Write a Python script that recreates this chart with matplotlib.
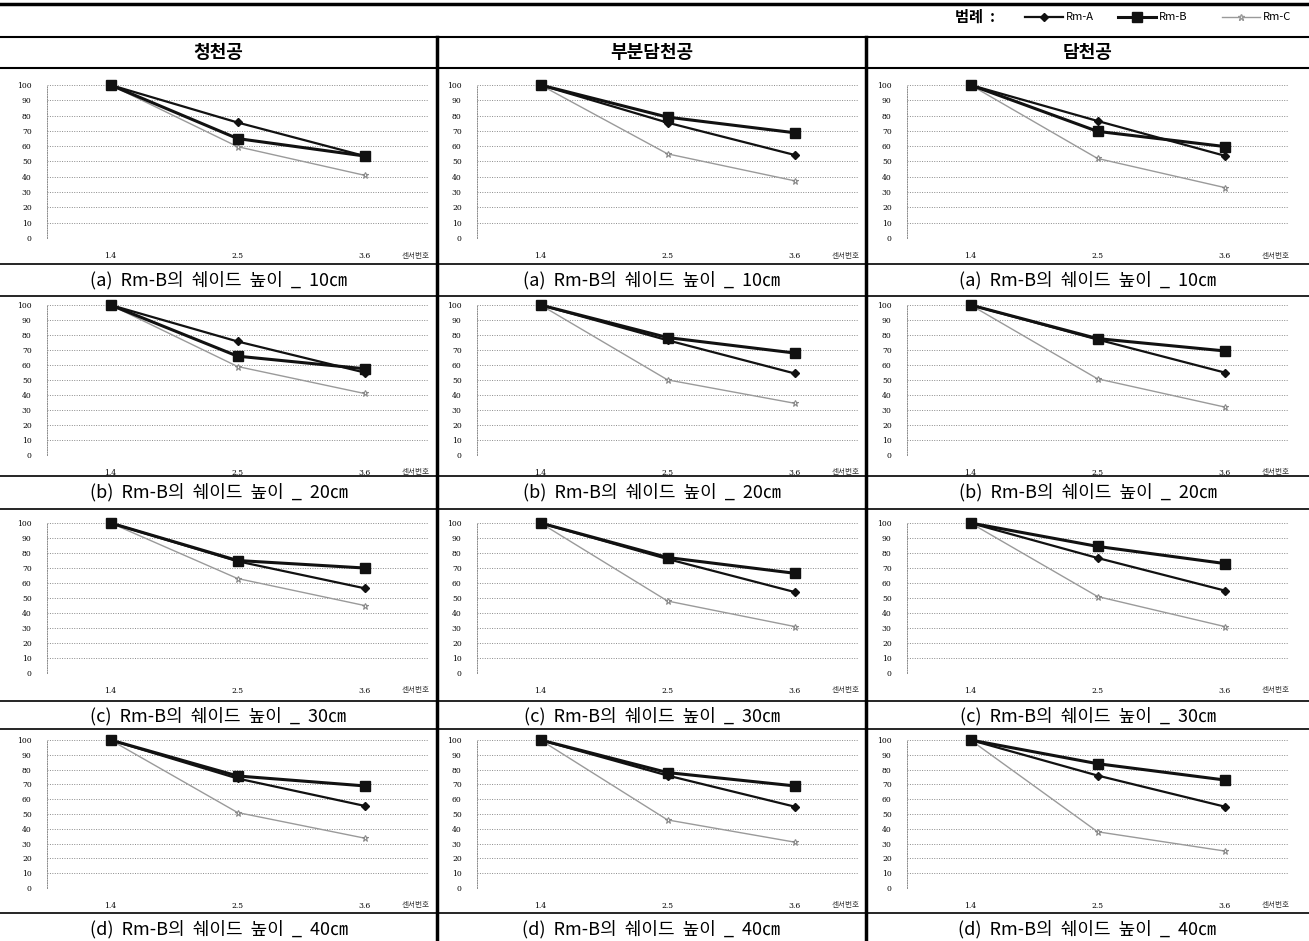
import numpy as np
import matplotlib.pyplot as plt
from matplotlib.lines import Line2D

plt.rcParams['font.family'] = ['Noto Sans CJK KR', 'DejaVu Sans']

# data: relative values at sensors 1.4 / 2.5 / 3.6
sensors = ['1.4', '2.5', '3.6']
col_titles = ['청천공', '부분담천공', '담천공']
captions = ['(a)  Rm-B의  쉐이드  높이  _  10㎝', '(b)  Rm-B의  쉐이드  높이  _  20㎝',
            '(c)  Rm-B의  쉐이드  높이  _  30㎝', '(d)  Rm-B의  쉐이드  높이  _  40㎝']

# rows = shade height 10/20/30/40, cols = sky type
rm_a = [[[100, 75.5, 53.6], [100, 75.4, 54.3], [100, 76.5, 53.8]],
        [[100, 75.7, 55.0], [100, 76.5, 54.4], [100, 77.0, 55.0]],
        [[100, 74.5, 56.5], [100, 76.0, 54.0], [100, 76.7, 55.0]],
        [[100, 74.0, 55.5], [100, 76.0, 55.0], [100, 76.0, 55.0]]]
rm_b = [[[100, 65.0, 53.6], [100, 79.0, 68.8], [100, 69.7, 59.8]],
        [[100, 65.9, 57.5], [100, 78.3, 68.0], [100, 77.6, 69.4]],
        [[100, 75.0, 70.0], [100, 77.0, 66.5], [100, 84.4, 73.0]],
        [[100, 75.7, 69.0], [100, 78.0, 69.0], [100, 84.0, 73.0]]]
rm_c = [[[100, 59.7, 41.0], [100, 55.0, 37.4], [100, 52.0, 33.0]],
        [[100, 59.0, 41.0], [100, 50.1, 34.5], [100, 50.8, 32.0]],
        [[100, 63.0, 45.0], [100, 48.0, 31.0], [100, 51.0, 31.0]],
        [[100, 51.0, 33.7], [100, 46.0, 31.0], [100, 38.0, 25.0]]]

W, H = 1309, 941
fig = plt.figure(figsize=(W / 100, H / 100), dpi=100)


def box(x0, y0, x1, y1):
    # pixel box (top-left origin) -> figure fraction rect
    return [x0 / W, 1 - y1 / H, (x1 - x0) / W, (y1 - y0) / H]


def hline(y, x0, x1, lw):
    fig.add_artist(Line2D([x0 / W, x1 / W], [1 - y / H, 1 - y / H], color='black', lw=lw))


def vline(x, y0, y1, lw):
    fig.add_artist(Line2D([x / W, x / W], [1 - y0 / H, 1 - y1 / H], color='black', lw=lw))


# frame lines
hline(4, 0, W, 2.5)
hline(37, 0, W, 1.5)
hline(68, 0, W, 1.5)
vline(437, 37, H, 2.5)
vline(866, 37, H, 2.5)

col_left = [0, 437, 866]
col_right = [437, 866, W]
ax_left = [47, 477, 907]
ax_w = 381
row_top = [85, 305, 523, 740]
row_bot = [238, 455, 673, 888]
cap_top = [264, 476, 701, 913]
cap_bot = [296, 509, 729, None]
cap_y = [280, 492, 716, 929]

for j, t in enumerate(col_titles):
    fig.text((col_left[j] + col_right[j]) / 2 / W, 1 - 52 / H, t, ha='center', va='center',
             fontsize=13, fontweight='bold')

for i in range(4):
    hline(cap_top[i], 0, W, 1.2)
    if cap_bot[i] is not None:
        hline(cap_bot[i], 0, W, 1.2)
    for j in range(3):
        ax = fig.add_axes(box(ax_left[j], row_top[i], ax_left[j] + ax_w, row_bot[i]))
        x = np.arange(len(sensors))
        ax.plot(x, rm_c[i][j], color='#9a9a9a', lw=1.0, marker='*', ms=5,
                mfc='white', mec='#8a8a8a', mew=0.8, clip_on=False, zorder=3)
        ax.plot(x, rm_a[i][j], color='#111111', lw=1.6, marker='D', ms=4,
                clip_on=False, zorder=4)
        ax.plot(x, rm_b[i][j], color='#111111', lw=2.2, marker='s', ms=7,
                clip_on=False, zorder=5)
        ax.set_xlim(-0.5, 2.5)
        ax.set_ylim(0, 100)
        ax.set_yticks(np.arange(0, 101, 10))
        ax.set_xticks(x)
        ax.set_xticklabels(sensors)
        for g in range(10, 101, 10):
            ax.axhline(g, color='#8a8a8a', lw=0.7, ls=(0, (1, 1.5)), zorder=1)
        for s in ['top', 'right', 'bottom']:
            ax.spines[s].set_visible(False)
        ax.spines['left'].set_color('#8a8a8a')
        ax.spines['left'].set_linestyle((0, (1, 1.5)))
        ax.spines['left'].set_linewidth(0.7)
        ax.tick_params(axis='y', length=0, pad=11, labelsize=5.5)
        ax.tick_params(axis='x', length=0, pad=10, labelsize=5.5)
        for lab in ax.get_xticklabels() + ax.get_yticklabels():
            lab.set_family('DejaVu Serif')
        ax.text(2.4, -0.115, '센서번호', transform=ax.get_xaxis_transform(),
                ha='center', va='center', fontsize=5.5, color='#333333')
        ax.set_facecolor('none')
        fig.text((col_left[j] + col_right[j]) / 2 / W, 1 - cap_y[i] / H, captions[i],
                 ha='center', va='center', fontsize=13)

# legend row
fig.text(975 / W, 1 - 17 / H, '범례  :', ha='center', va='center', fontsize=11, fontweight='bold')
leg_y = 1 - 17 / H
entries = [('Rm-A', 'D', 4, 1.6, '#111111', 1025), ('Rm-B', 's', 7, 2.2, '#111111', 1118),
           ('Rm-C', '*', 5, 1.0, '#9a9a9a', 1222)]
for name, mk, ms, lw, c, x0 in entries:
    fig.add_artist(Line2D([x0 / W, (x0 + 38) / W], [leg_y, leg_y], color=c, lw=lw))
    fig.add_artist(Line2D([(x0 + 19) / W], [leg_y], marker=mk, ms=ms, color=c,
                          mfc='white' if name == 'Rm-C' else c))
    fig.text((x0 + 41) / W, leg_y, name, ha='left', va='center', fontsize=8)

fig.savefig('out.png', dpi=100)
